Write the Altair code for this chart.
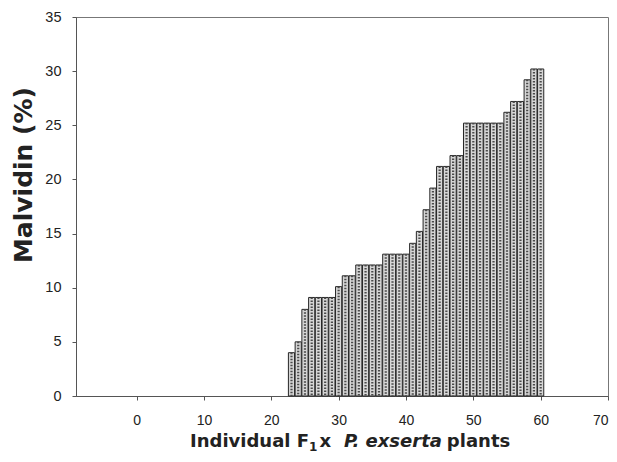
import altair as alt
import pandas as pd

# Individual plants (x) and their malvidin content in percent (y)
plants = list(range(23, 61))
malvidin = [4.0, 5.0, 8.0, 9.1, 9.1, 9.1, 9.1, 10.1, 11.1, 11.1,
            12.1, 12.1, 12.1, 12.1, 13.1, 13.1, 13.1, 13.1, 14.1, 15.2,
            17.2, 19.2, 21.2, 21.2, 22.2, 22.2, 25.2, 25.2, 25.2, 25.2,
            25.2, 25.2, 26.2, 27.2, 27.2, 29.2, 30.2, 30.2]
x_ticks = [0, 10, 20, 30, 40, 50, 60, 70]
y_ticks = [0, 5, 10, 15, 20, 25, 30, 35]

df = pd.DataFrame({"plant": plants, "malvidin": malvidin})

W, H = 532, 379
TITLE_FONT = "DejaVu Sans"
# DejaVu Sans Bold advance widths (per 1000 em) for laying out the axis title
GLYPH = {'I': 372, 'n': 712, 'd': 716, 'i': 343, 'v': 652, 'u': 712, 'a': 675,
         'l': 343, ' ': 348, 'F': 683, '1': 696, 'x': 663, 'P': 733, '.': 380,
         'e': 678, 's': 595, 'r': 493, 't': 478, 'p': 716}


def text_width(s, size):
    return sum(GLYPH[c] for c in s) * size / 1000.0


x_scale = alt.Scale(domain=[-9, 70], nice=False, zero=False)
y_scale = alt.Scale(domain=[0, 35], nice=False)

base = alt.Chart(df).transform_calculate(
    left="datum.plant - 0.46", right="datum.plant + 0.46"
)

bars = base.mark_rect(fill="#d6d6d6", stroke="#262626", strokeWidth=1).encode(
    x=alt.X("left:Q", scale=x_scale,
            axis=alt.Axis(values=x_ticks, title=None, grid=False, tickSize=4,
                          labelPadding=13, labelFont="Liberation Sans",
                          labelFontSize=14, labelColor="#222",
                          domainColor="#555", tickColor="#555")),
    x2="right:Q",
    y=alt.Y("malvidin:Q", scale=y_scale,
            axis=alt.Axis(values=y_ticks, title=None, grid=False, tickSize=4,
                          labelPadding=11, labelFont="Liberation Sans",
                          labelFontSize=14.5, labelColor="#222",
                          domainColor="#555", tickColor="#555")),
    y2=alt.datum(0),
)

# dotted fill texture running up the middle of every bar
dots = base.mark_rule(color="#4a4a4a", strokeWidth=2.2, strokeDash=[1.5, 1.5]).encode(
    x=alt.X("plant:Q", scale=x_scale),
    y=alt.Y("malvidin:Q", scale=y_scale),
    y2=alt.datum(0),
)

# x-axis title with subscript and italic species name
size = 18
pieces = [("Individual F", size, "normal", 0, 0),
          ("1", 12, "normal", 4, 2),
          (" x ", size, "normal", 0, 0),
          ("P. exserta", size, "italic", 0, 0),
          (" plants", size, "normal", 0, 0)]
title_layers = []
cx = 114
base_y = 430
for txt, fs, style, dy, gap in pieces:
    title_layers.append(
        alt.Chart().mark_text(align="left", baseline="alphabetic", font=TITLE_FONT,
                              fontSize=fs, fontWeight="bold", fontStyle=style,
                              color="#222").encode(
            x=alt.value(cx), y=alt.value(base_y + dy), text=alt.value(txt))
    )
    cx += text_width(txt, fs) + gap

y_title = alt.Chart().mark_text(align="center", baseline="middle", angle=270,
                                font=TITLE_FONT, fontSize=25, fontWeight="bold",
                                color="#222").encode(
    x=alt.value(-52), y=alt.value(158), text=alt.value("Malvidin (%)"))

chart = alt.layer(bars, dots, y_title, *title_layers).properties(
    width=W, height=H,
    autosize="none",
    padding={"left": 76, "top": 17, "right": 9, "bottom": 66},
).configure_view(stroke="#777", strokeWidth=1)

chart.save("out.html", embed_options={"renderer": "svg", "actions": False})
